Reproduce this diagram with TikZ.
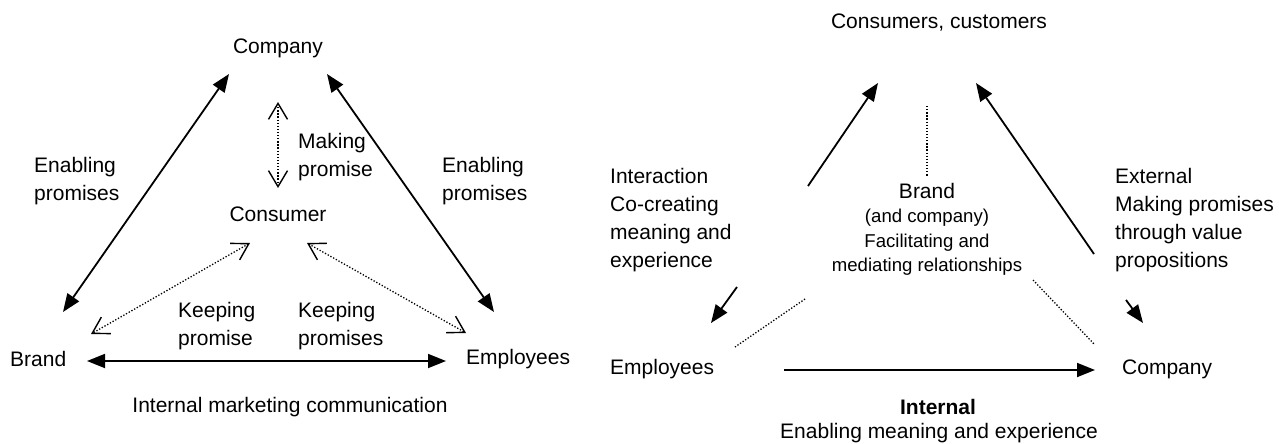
\documentclass[tikz,border=0pt]{standalone}
\usepackage{fontspec}
\setmainfont{Liberation Sans}
\usetikzlibrary{arrows.meta}
\begin{document}
\begin{tikzpicture}[x=1pt,y=-1pt,
  lbl/.style={inner sep=0pt, font=\fontsize{21}{28}\selectfont},
  sml/.style={inner sep=0pt, font=\fontsize{18.6}{24}\selectfont},
  solidarr/.style={line width=1.8pt, -{Triangle[length=18pt,width=14pt]}},
  biarr/.style={line width=1.8pt, {Triangle[length=18pt,width=14pt]}-{Triangle[length=18pt,width=14pt]}},
  dotarr/.style={line width=1.3pt, dash pattern=on 1.3pt off 1.8pt,
     {Straight Barb[length=16pt,width=19pt,line width=1.4pt]}-{Straight Barb[length=16pt,width=19pt,line width=1.4pt]}},
  dotln/.style={line width=1.3pt, dash pattern=on 1.3pt off 1.8pt}]
\useasboundingbox (0,0) rectangle (1279,444);

% ---------- left panel ----------
\node[lbl] (company) at (278,48) {Company};
\node[lbl] (consumer) at (278,214) {Consumer};
\node[lbl,anchor=west] (brand) at (10,359) {Brand};
\node[lbl,anchor=west] (employees) at (466,359) {Employees};
\node[lbl,anchor=west,align=left] (enabL) at (34,181) {Enabling\\promises};
\node[lbl,anchor=west,align=left] (enabR) at (442,181) {Enabling\\promises};
\node[lbl,anchor=west,align=left] (making) at (298,157) {Making\\promise};
\node[lbl,anchor=west,align=left] (keep1) at (178,326) {Keeping\\promise};
\node[lbl,anchor=west,align=left] (keep2) at (298,326) {Keeping\\promises};
\node[lbl] (imc) at (290,407) {Internal marketing communication};

\coordinate (cb1) at (229,74);  \coordinate (cb2) at (63,312);
\coordinate (ce1) at (327,74);  \coordinate (ce2) at (494,312);
\coordinate (cm1) at (278,102); \coordinate (cm2) at (278,188);
\coordinate (kb1) at (250,243); \coordinate (kb2) at (91,334);
\coordinate (ke1) at (307,243); \coordinate (ke2) at (466,333);
\coordinate (be1) at (87,361);  \coordinate (be2) at (446,361);

\draw[biarr] (cb1) -- (cb2);
\draw[biarr] (ce1) -- (ce2);
\draw[biarr] (be1) -- (be2);
\draw[dotarr] (cm1) -- (cm2);
\draw[dotarr] (kb1) -- (kb2);
\draw[dotarr] (ke1) -- (ke2);

% ---------- right panel ----------
\node[lbl] (cons) at (939,23) {Consumers, customers};
\node[lbl,anchor=west] (emp2) at (610,369) {Employees};
\node[lbl,anchor=west] (comp2) at (1122,369) {Company};
\node[lbl,anchor=west,align=left] (inter) at (610,220) {Interaction\\Co-creating\\meaning and\\experience};
\node[lbl,anchor=west,align=left] (ext) at (1115,220) {External\\Making promises\\through value\\propositions};
\node[lbl] (brand2) at (927,191) {Brand};
\node[sml] (andco) at (927,218) {(and company)};
\node[sml] (facil) at (927,243) {Facilitating and};
\node[sml] (medi) at (927,267) {mediating relationships};
\node[lbl,font=\fontsize{21}{28}\selectfont\bfseries] (internal) at (938,407) {Internal};
\node[lbl] (enmean) at (939,433) {Enabling meaning and experience};

\coordinate (ia1) at (808,186);  \coordinate (ia2) at (878,83);
\coordinate (ib1) at (737,287);  \coordinate (ib2) at (711,323);
\coordinate (ex1) at (1094,254); \coordinate (ex2) at (976,83);
\coordinate (ey1) at (1126,300); \coordinate (ey2) at (1143,323);
\coordinate (dv1) at (927,106);  \coordinate (dv2) at (927,176);
\coordinate (dl1) at (805,299);  \coordinate (dl2) at (735,347);
\coordinate (dr1) at (1033,280); \coordinate (dr2) at (1095,345);
\coordinate (ec1) at (784,370);  \coordinate (ec2) at (1095,370);

\draw[solidarr] (ia1) -- (ia2);
\draw[solidarr] (ib1) -- (ib2);
\draw[solidarr] (ex1) -- (ex2);
\draw[solidarr] (ey1) -- (ey2);
\draw[solidarr] (ec1) -- (ec2);
\draw[dotln] (dv1) -- (dv2);
\draw[dotln] (dl1) -- (dl2);
\draw[dotln] (dr1) -- (dr2);
\end{tikzpicture}
\end{document}
